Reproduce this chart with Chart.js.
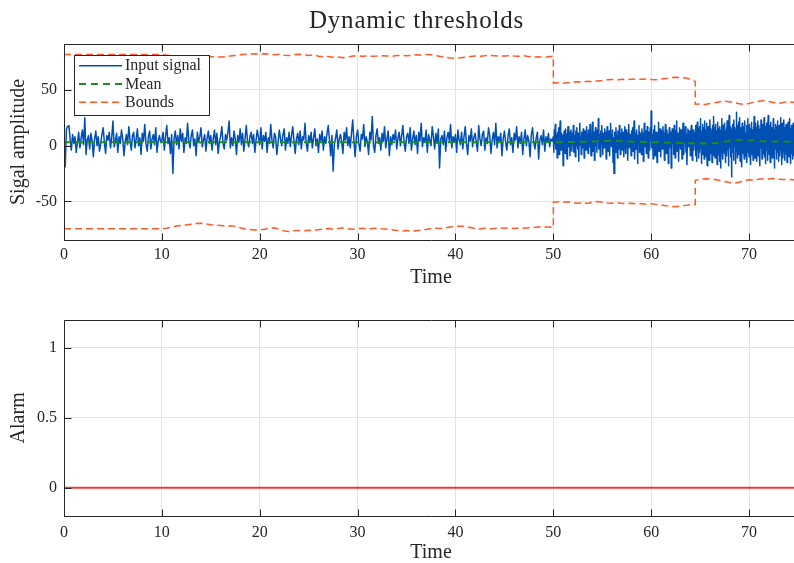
<!DOCTYPE html>
<html>
<head>
<meta charset="utf-8">
<script src="https://cdn.jsdelivr.net/npm/chart.js@4/dist/chart.umd.min.js"></script>
<style>
  html, body { margin: 0; padding: 0; background: #fff; }
  #page { position: relative; width: 794px; height: 563px; overflow: hidden; background: #fff; }
  canvas { position: absolute; left: 0; }
  #signalCanvas { top: 0; }
  #alarmCanvas { top: 290px; }
  #title {
    position: absolute; left: 0; top: 5px; width: 833px; text-align: center;
    font-family: 'Liberation Serif', 'Times New Roman', serif; font-size: 25px;
    line-height: 30px; letter-spacing: 0.8px; color: #262626;
  }
</style>
</head>
<body>
<div id="page">
  <canvas id="signalCanvas" width="798" height="290"></canvas>
  <canvas id="alarmCanvas" width="798" height="275"></canvas>
  <div id="title">Dynamic thresholds</div>
</div>
<script>
// ---- tick labels ----
const timeTicks = [0, 10, 20, 30, 40, 50, 60, 70];
const amplitudeTicks = [-50, 0, 50];
const alarmTicks = [0, 0.5, 1];

// ---- input signal, three acquisition segments (start time, sample period) ----
const segmentStart = [0, 50, 64.5];
const segmentStep = [0.125, 0.05, 0.035];

const signalA = [
  0, -19, 15, 17, 18, 6, -4, 10, 2, 8, -6, 3, 12, -2, 7, 14, 1, 25, -8, 5, 9, -3, 11, 4, -10, 6, 13, 0, 8, -5, 2, 10, 16, 3, -7, 9, 5, 12, -2, 7,
  22, -1, 4, 11, -6, 8, 2, 14, 6, -9, 3, 10, 1, 17, 5, -4, 9, 12, -2, 6, 15, 0, 7, -8, 11, 4, 19, 2, -5, 8, 13, -3, 6, 10, 1, 16, -6, 4, 9, 3,
  5, 12, -4, 8, 18, 2, 7, -7, 10, -25, 6, 13, 1, 9, -3, 15, 4, 11, -6, 7, 2, 20, 5, -2, 9, 14, 0, 6, -9, 12, 3, 8, 16, -1, 5, 10, -5, 7, 13, 2,
  9, -4, 6, 14, 1, 11, -7, 4, 8, 17, 2, -3, 10, 5, 12, 22, -2, 7, 0, 13, 6, -8, 9, 3, 15, 1, 11, -5, 6, 18, 4, -1, 8, 12, 2, 10, -6, 5, 14, 7,
  1, 16, -3, 9, 4, 12, -6, 7, 2, 19, 5, -2, 11, 8, -8, 3, 14, 6, 0, 10, 15, -4, 7, 2, 12, -1, 9, 17, 4, -7, 6, 11, 1, 13, -3, 8, 5, 20, 2, -5,
  9, 3, 12, -2, 7, 15, 0, 6, -6, 10, 4, 13, -4, 8, 2, 11, 18, 5, -9, 9, -23, 1, 7, 14, -3, 6, 10, 3, -7, 12, 5, 16, 0, 8, -2, 11, 23, 4, -10, 8,
  14, 2, -5, 10, 6, 19, -1, 8, 3, -8, 12, 5, 26, 0, -6, 9, 15, 2, 7, -4, 11, 4, 17, -2, 6, 13, -9, 8, 1, 10, 5, 14, -3, 7, 12, 0, 9, 18, 3, -5,
  8, 11, 2, 16, -4, 6, 13, 1, 9, -7, 12, 4, 20, -1, 7, 3, 14, -6, 10, 5, 0, 17, 8, -3, 11, 2, 15, -20, 6, 9, 1, 13, -5, 7, 12, 4, 19, -2, 8, 3,
  10, -6, 14, 5, 1, 12, -3, 8, 17, 2, -8, 9, 4, 15, -1, 7, 11, 3, -5, 18, 6, 0, 10, 13, -4, 7, 2, 16, 9, -7, 5, 12, 1, 20, -2, 8, 4, 11, -9, 6,
  13, 3, -4, 9, 15, 1, 7, -6, 11, 5, 17, -2, 8, 2, 12, -8, 6, 14, 0, 9, 4, -10, 10, 16, 3, -3, 7, 12, -12, 5, 9, 1, 14, -5, 8, 3, 11, -1, 6, 4
];

const signalB = [
  8, -6, 14, 2, 19, -3, 10, 5, -11, 12, 0, 16, -8, 7, 22, 3, -4, 11, -2, 9,
  -18, 6, 13, 1, -7, 15, 4, 10, -12, 8, 17, -1, 5, 12, -9, 3, 14, 7, -5, 11,
  2, 18, -6, 9, 4, -10, 13, 0, 16, 6, -3, 11, -14, 8, 20, 1, 7, -8, 12, 5,
  -2, 15, 9, -11, 3, 13, 6, -4, 17, 1, 10, -7, 14, 4, -1, 19, 8, -9, 11, 2,
  21, -5, 7, 12, -13, 5, 16, 0, 9, -6, 14, 3, 24, -3, 10, 6, -10, 13, 1, 18,
  4, -8, 11, 7, -2, 15, 0, 12, -12, 6, 17, 2, -5, 9, 13, -9, 5, 20, 3, -1,
  10, 14, -15, 7, -25, 4, 12, -6, 16, 1, 9, -11, 13, 5, -3, 18, 8, -8, 11, 2,
  15, -4, 6, 12, -10, 3, 17, 9, -7, 14, 0, 11, -13, 6, 19, 4, -2, 10, 7, -9,
  13, 1, 16, -5, 8, 22, -12, 5, 11, -3, 14, 7, -16, 9, 2, 18, -6, 12, 4, 10,
  -8, 15, 3, 11, -14, 6, 20, -1, 9, 13, -7, 4, 17, 1, -11, 12, 8, -4, 16, 5,
  31, -2, 10, 6, -12, 14, 3, 18, -9, 7, 12, 0, -15, 11, 5, 21, -5, 9, 15, 2,
  -10, 13, 7, -3, 17, 4, 11, -13, 8, 19, 1, -7, 14, 6, 10, -16, 3, 16, 9, -2,
  12, -20, 7, 15, 2, 10, -8, 18, 5, -11, 13, 0, 22, -5, 8, 11, -14, 4, 16, 7,
  -3, 14, 9, -12, 6, 20, 1, -8, 12, 5, 17, -6, 10, -17, 3, 15, 8, -1, 13, 4,
  -9, 11, 18, 2, -13, 7, 14, -4, 10, 5
];

const signalC = [
  12, -9, 18, 3, -14, 9, 21, -4, 7, 15, -11, 2, 17, -6, 11, 24, -2, 6, -16, 13, 4, 19, -8, 10, 0, 16, -12, 8, 22, -3,
  5, 14, -10, 20, 1, -18, 11, 7, 17, -5, 13, -13, 3, 23, 9, -7, 15, -1, 12, -15, 6, 18, -4, 10, 26, -9, 2, 16, -11, 8,
  19, -6, 13, 4, -17, 11, 21, 0, -8, 15, 7, -14, 17, 3, 10, -20, 14, 5, 24, -3, 9, -12, 18, 1, 12, -7, 20, 6, -15, 13,
  2, 16, -9, 22, 8, -4, 14, -18, 10, 27, -2, 5, 17, -10, 12, 3, -28, 15, 7, 19, -6, 11, -13, 23, 4, -1, 16, 9, -16, 13,
  30, -5, 8, 18, -11, 14, 2, 21, -8, 10, 25, -14, 6, 16, -3, 12, -19, 20, 4, 9, -7, 17, 1, -12, 15, 22, -4, 11, -9, 7,
  18, -15, 13, 3, 24, -6, 10, -10, 19, 6, -2, 15, -17, 11, 21, 0, -8, 14, 8, -13, 17, 4, 26, -5, 12, -11, 9, 20, -3, 16,
  -14, 7, 22, 2, -9, 13, 18, -6, 10, -18, 15, 5, 23, -2, 11, -12, 19, 8, -7, 14, 1, 25, -10, 12, 6, -16, 17, 3, 20, -4,
  9, -13, 15, 27, -1, 10, -8, 18, 5, -15, 13, 21, -5, 8, 16, -11, 11, 2, 24, -7, 14, -20, 12, 7, 19, -3, 10, -12, 17, 4,
  22, -6, 13, -14, 9, 18, 1, -9, 15, 25, -4, 11, -17, 7, 20, 3, -11, 14, 8, 23, -2, 16, -13, 10, 5, 19, -8, 12, -15, 17,
  6, 21, -5, 13, -10, 9, 24, 2, -16, 15, 11, -7, 18, 4, -12, 14, 20, -3, 8, -9, 16, 1, 22, -6, 12, -14, 10, 17, -2, 13
];

// ---- running statistics, one value every 0.5 time units ----
const statStep = 0.5;

const meanLevel = [
  3.0, 3.1, 3.1, 3.0, 2.9, 3.0, 3.1, 3.0, 3.0, 2.9,
  3.0, 3.1, 3.0, 3.0, 3.1, 3.0, 2.9, 3.0, 3.0, 3.1,
  3.0, 3.0, 2.9, 3.0, 3.1, 3.0, 3.0, 3.0, 2.9, 3.0,
  3.1, 3.0, 3.0, 3.1, 3.0, 2.9, 3.0, 3.0, 3.1, 3.0,
  3.0, 2.9, 3.0, 3.0, 3.1, 3.0, 3.0, 2.9, 3.0, 3.1,
  3.0, 3.0, 3.0, 2.9, 3.0, 3.1, 3.0, 3.0, 3.0, 2.9,
  3.0, 3.1, 3.0, 3.0, 2.9, 3.0, 3.0, 3.1, 3.0, 3.0,
  2.9, 3.0, 3.0, 3.1, 3.0, 3.0, 2.9, 3.0, 3.0, 3.1,
  3.0, 3.0, 3.0, 2.9, 3.0, 3.1, 3.0, 3.0, 2.9, 3.0,
  3.0, 3.1, 3.0, 3.0, 3.0, 2.9, 3.0, 3.1, 3.0, 3.0,
  3.0,
  3.0, 3.1, 3.2, 3.2, 3.3, 3.5, 3.6, 3.8, 4.0, 4.1,
  4.2, 4.3, 4.2, 4.0, 3.8, 3.6, 3.5, 3.3, 3.2, 3.1,
  3.0, 2.9, 2.8, 2.6, 2.5, 2.4, 2.3, 2.2, 2.2, 2.1,
  2.0, 2.0, 2.1, 2.6, 3.5, 4.3, 4.8, 5.0, 4.9, 4.7,
  4.5, 4.2, 4.0, 3.8, 3.7, 3.6, 3.6, 3.5, 3.5, 3.4
];

// upper / lower bounds per regime (0-50, 50-64.5, 64.5-75)
const upperA = [
  81.5, 81.5, 81.5, 81.5, 81.5, 81.5, 81.5, 81.5, 81.5, 81.5, 81.5,
  81.5, 81.5, 81.5, 81.5, 81.5, 81.5, 81.5, 81.5, 81.5, 81.5,
  81.0, 80.5, 80.0, 79.8, 79.6, 79.5, 79.6, 79.5, 79.4, 79.5,
  79.6, 79.3, 79.5, 80.2, 80.8, 81.3, 81.8, 82.0, 82.2,
  81.8, 82.3, 82.1, 81.4, 81.9, 80.9, 80.6, 81.5, 81.8, 81.2,
  80.7, 81.3, 80.1, 79.6, 79.8, 79.2, 79.4, 78.6, 79.3, 80.2,
  80.4, 80.1, 80.3, 80.0, 80.2, 80.5, 80.3, 80.0, 80.6, 80.9,
  80.5, 80.7, 81.3, 81.0, 81.6, 81.4, 80.6, 79.8, 79.1, 78.5,
  78.2, 78.6, 79.2, 79.8, 80.3, 80.0, 80.4, 80.9, 80.5, 80.1,
  80.3, 80.6, 80.2, 80.0, 80.4, 79.7, 79.3, 79.6, 79.0, 79.5,
  80.0
];
const upperB = [
  56.0, 56.3, 55.9, 56.4, 56.9, 57.3, 56.8, 57.6, 57.2, 57.9,
  58.4, 59.0, 59.3, 58.8, 59.4, 59.0, 59.5, 59.6, 59.4, 59.7,
  59.3, 59.1, 59.6, 60.0, 60.8, 61.2, 61.0, 60.6, 59.5, 57.5
];
const upperC = [
  37.0, 37.2, 36.8, 37.8, 38.4, 39.3, 39.7, 39.3, 38.5, 37.6,
  37.0, 37.8, 39.0, 39.8, 40.2, 39.5, 38.6, 37.9, 38.6, 39.2,
  38.9, 39.0
];
const lowerA = [
  -74.5, -74.5, -74.5, -74.5, -74.5, -74.5, -74.5, -74.5, -74.5, -74.5, -74.5,
  -74.5, -74.5, -74.5, -74.5, -74.5, -74.5, -74.5, -74.5, -74.5, -74.5,
  -74.0, -73.0, -72.0, -71.5, -71.0, -70.3, -69.7, -69.5, -70.2, -70.8,
  -71.2, -71.5, -72.0, -71.8, -72.3, -73.5, -74.6, -75.2, -75.6,
  -75.5, -74.8, -74.0, -73.6, -75.0, -76.4, -76.8, -76.2, -75.9, -76.3,
  -75.8, -76.1, -75.3, -74.6, -74.2, -74.8, -74.3, -73.7, -74.5, -74.9,
  -74.4, -74.0, -74.6, -74.2, -73.9, -74.5, -74.8, -75.3, -75.9, -76.4,
  -76.1, -76.6, -76.2, -75.8, -75.1, -74.3, -73.9, -74.2, -73.6, -72.8,
  -72.3, -72.1, -72.6, -73.4, -74.2, -74.6, -74.0, -74.4, -74.1, -73.7,
  -74.0, -73.8, -74.2, -73.6, -73.9, -73.5, -73.2, -72.8, -72.6, -73.0,
  -73.3
];
const lowerB = [
  -50.6, -50.2, -50.8, -50.3, -51.2, -51.6, -51.0, -51.7, -50.6, -50.1,
  -50.7, -51.3, -51.5, -51.1, -51.8, -52.0, -51.6, -52.2, -52.0, -52.4,
  -52.1, -52.6, -53.1, -53.8, -54.4, -54.7, -54.2, -53.5, -53.0, -52.8
];
const lowerC = [
  -31.0, -30.2, -29.6, -29.8, -30.4, -31.3, -32.2, -33.1, -33.6, -32.8,
  -31.4, -30.6, -30.9, -30.0, -29.6, -29.8, -29.5, -30.1, -30.4, -30.2,
  -30.6, -30.4
];

// ---- alarm flag, one value per time unit ----
const alarmLevel = [
  0, 0, 0, 0, 0, 0, 0, 0, 0, 0, 0, 0, 0, 0, 0, 0, 0, 0, 0, 0,
  0, 0, 0, 0, 0, 0, 0, 0, 0, 0, 0, 0, 0, 0, 0, 0, 0, 0, 0, 0,
  0, 0, 0, 0, 0, 0, 0, 0, 0, 0, 0, 0, 0, 0, 0, 0, 0, 0, 0, 0,
  0, 0, 0, 0, 0, 0, 0, 0, 0, 0, 0, 0, 0, 0, 0, 0
];

// ---- styling ----
const FONT = "'Liberation Serif', 'Times New Roman', serif";
const INK = '#262626';
const GRID = '#e4e4e4';
const BLUE = '#0050b4';
const GREEN = '#1f8a22';
const ORANGE = '#ff5a26';
const RED = '#f03a3a';

// turn a sampled series into {x, y} points
const sampled = (values, t0, dt) => values.map((v, i) => ({ x: t0 + i * dt, y: v }));

const signalPoints = [].concat(
  sampled(signalA, segmentStart[0], segmentStep[0]),
  sampled(signalB, segmentStart[1], segmentStep[1]),
  sampled(signalC, segmentStart[2], segmentStep[2])
);
const meanPoints = sampled(meanLevel, 0, statStep);
const upperPoints = [].concat(
  sampled(upperA, segmentStart[0], statStep),
  sampled(upperB, segmentStart[1], statStep),
  sampled(upperC, segmentStart[2], statStep)
);
const lowerPoints = [].concat(
  sampled(lowerA, segmentStart[0], statStep),
  sampled(lowerB, segmentStart[1], statStep),
  sampled(lowerC, segmentStart[2], statStep)
);
const alarmPoints = sampled(alarmLevel, 0, 1);

// axes frame (top, left, bottom) with inward tick marks
const axesBox = {
  id: 'axesBox',
  afterDatasetsDraw(chart) {
    const { ctx, chartArea, scales } = chart;
    const L = Math.round(chartArea.left) + 0.5;
    const R = Math.round(chartArea.right) + 0.5;
    const T = Math.round(chartArea.top) + 0.5;
    const B = Math.round(chartArea.bottom) + 0.5;
    const len = 7;
    ctx.save();
    ctx.strokeStyle = INK;
    ctx.lineWidth = 1;
    ctx.setLineDash([]);
    ctx.beginPath();
    ctx.moveTo(R, T); ctx.lineTo(L, T); ctx.lineTo(L, B); ctx.lineTo(R, B);
    scales.x.ticks.forEach(t => {
      const px = Math.round(scales.x.getPixelForValue(t.value)) + 0.5;
      ctx.moveTo(px, B); ctx.lineTo(px, B - len);
      ctx.moveTo(px, T); ctx.lineTo(px, T + len);
    });
    scales.y.ticks.forEach(t => {
      const py = Math.round(scales.y.getPixelForValue(t.value)) + 0.5;
      ctx.moveTo(L, py); ctx.lineTo(L + len, py);
    });
    ctx.stroke();
    ctx.restore();
  }
};

// boxed legend in the upper-left corner of the signal axes
const legendBox = {
  id: 'legendBox',
  afterDraw(chart) {
    const ctx = chart.ctx;
    const entries = chart.data.datasets.filter(d => d.inLegend);
    const x0 = 74.5, y0 = 55.5, w = 135, h = 60, rowH = 18.3;
    ctx.save();
    ctx.fillStyle = '#fff';
    ctx.fillRect(x0, y0, w, h);
    ctx.strokeStyle = INK;
    ctx.lineWidth = 1;
    ctx.setLineDash([]);
    ctx.strokeRect(x0, y0, w, h);
    entries.forEach((d, i) => {
      const y = y0 + 10.2 + i * rowH;
      ctx.strokeStyle = d.borderColor;
      ctx.lineWidth = d.borderWidth;
      ctx.setLineDash(d.borderDash || []);
      ctx.beginPath();
      ctx.moveTo(x0 + 4.5, y);
      ctx.lineTo(x0 + 47.5, y);
      ctx.stroke();
      ctx.setLineDash([]);
      ctx.fillStyle = INK;
      ctx.font = '16px ' + FONT;
      ctx.textBaseline = 'middle';
      ctx.textAlign = 'left';
      ctx.fillText(d.label, x0 + 50.5, y + 0.5);
    });
    ctx.restore();
  }
};

function timeAxis(labelPad, height) {
  return {
    type: 'linear', min: 0, max: 75,
    afterBuildTicks: s => { s.ticks = timeTicks.map(v => ({ value: v })); },
    afterFit: s => { s.height = height; },
    grid: { color: GRID, lineWidth: 1, drawTicks: false },
    border: { display: false },
    ticks: { padding: labelPad, color: INK, font: { family: FONT, size: 16 }, maxRotation: 0, autoSkip: false, callback: v => String(v) },
    title: { display: true, text: 'Time', color: INK, font: { family: FONT, size: 20 }, padding: 0 }
  };
}

function valueAxis(min, max, ticks, label) {
  return {
    type: 'linear', min, max,
    afterBuildTicks: s => { s.ticks = ticks.map(v => ({ value: v })); },
    afterFit: s => { s.width = 64; },
    grid: { color: GRID, lineWidth: 1, drawTicks: false },
    border: { display: false },
    ticks: { padding: 7, color: INK, font: { family: FONT, size: 16 }, autoSkip: false, callback: v => String(v) },
    title: { display: true, text: label, color: INK, font: { family: FONT, size: 20 }, padding: { top: 7, bottom: 0 } }
  };
}

const common = {
  responsive: false,
  animation: false,
  devicePixelRatio: 1,
  events: [],
  plugins: { legend: { display: false }, tooltip: { enabled: false }, title: { display: false } }
};

new Chart(document.getElementById('signalCanvas'), {
  type: 'line',
  data: {
    datasets: [
      { label: 'Input signal', data: signalPoints, borderColor: BLUE, borderWidth: 1.5, borderJoinStyle: 'round',
        pointRadius: 0, tension: 0, fill: false, order: 3, inLegend: true },
      { label: 'Mean', data: meanPoints, borderColor: GREEN, borderWidth: 2, borderDash: [7, 5],
        pointRadius: 0, tension: 0, fill: false, order: 2, inLegend: true },
      { label: 'Bounds', data: upperPoints, borderColor: ORANGE, borderWidth: 1.5, borderDash: [7, 4],
        pointRadius: 0, tension: 0, fill: false, order: 1, inLegend: true },
      { label: 'Bounds', data: lowerPoints, borderColor: ORANGE, borderWidth: 1.5, borderDash: [7, 4],
        pointRadius: 0, tension: 0, fill: false, order: 1 }
    ]
  },
  options: Object.assign({}, common, {
    layout: { padding: { top: 44, left: 0, right: 0, bottom: 0 } },
    scales: {
      x: timeAxis(5, 50),
      y: valueAxis(-84.5, 91, amplitudeTicks, 'Sigal amplitude')
    }
  }),
  plugins: [axesBox, legendBox]
});

new Chart(document.getElementById('alarmCanvas'), {
  type: 'line',
  data: {
    datasets: [
      { label: 'Alarm', data: alarmPoints, borderColor: RED, borderWidth: 2,
        pointRadius: 0, tension: 0, fill: false }
    ]
  },
  options: Object.assign({}, common, {
    layout: { padding: { top: 30, left: 0, right: 0, bottom: 0 } },
    scales: {
      x: timeAxis(7, 49.3),
      y: valueAxis(-0.2, 1.2, alarmTicks, 'Alarm')
    }
  }),
  plugins: [axesBox]
});
</script>
</body>
</html>
